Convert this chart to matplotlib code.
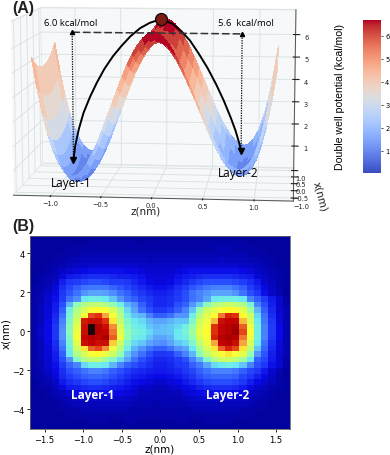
import numpy as np
import matplotlib
matplotlib.use('Agg')
import matplotlib.pyplot as plt
from matplotlib.colors import BoundaryNorm, Normalize, LinearSegmentedColormap
from matplotlib.cm import ScalarMappable

# panel A: well profile along z and the rise across x
z_nm = [-1.20, -1.15, -1.10, -1.05, -1.00, -0.95, -0.90, -0.85, -0.80, -0.75, -0.70, -0.65, -0.60,
        -0.55, -0.50, -0.45, -0.40, -0.35, -0.30, -0.25, -0.20, -0.15, -0.10, -0.05, 0.00,
        0.05, 0.10, 0.15, 0.20, 0.25, 0.30, 0.35, 0.40, 0.45, 0.50, 0.55, 0.60,
        0.65, 0.70, 0.75, 0.80, 0.85, 0.90, 0.95, 1.00, 1.05, 1.10, 1.15, 1.20]
well_kcal = [4.90, 3.70, 2.65, 1.80, 1.15, 0.65, 0.30, 0.08, 0.02, 0.10, 0.30, 0.60, 1.00,
             1.45, 2.00, 2.55, 3.10, 3.65, 4.20, 4.70, 5.10, 5.45, 5.72, 5.92, 6.00,
             5.94, 5.78, 5.52, 5.20, 4.82, 4.38, 3.92, 3.44, 2.95, 2.46, 1.98, 1.56,
             1.18, 0.86, 0.62, 0.46, 0.40, 0.48, 0.72, 1.10, 1.70, 2.50, 3.55, 4.85]
# colour seen on the surface: the outer walls stay paler than their height suggests
shade_kcal = [3.60, 3.30, 2.65, 1.80, 1.15, 0.65, 0.30, 0.08, 0.02, 0.10, 0.30, 0.60, 1.00,
              1.45, 2.00, 2.55, 3.10, 3.65, 4.20, 4.70, 5.10, 5.45, 5.72, 5.92, 6.00,
              5.94, 5.78, 5.52, 5.20, 4.82, 4.38, 3.92, 3.44, 2.95, 2.46, 1.98, 1.56,
              1.18, 0.86, 0.62, 0.46, 0.40, 0.48, 0.72, 1.10, 1.70, 2.50, 3.30, 3.80]
x_nm = [-1.0, -0.875, -0.75, -0.625, -0.5, -0.375, -0.25, -0.125, 0.0,
        0.125, 0.25, 0.375, 0.5, 0.625, 0.75, 0.875, 1.0]
rise_kcal = [0.70, 0.54, 0.39, 0.27, 0.17, 0.10, 0.04, 0.01, 0.00,
             0.01, 0.04, 0.10, 0.17, 0.27, 0.39, 0.54, 0.70]
band_levels = [-1.0, -0.5, 0.0, 0.6, 1.1, 1.6, 2.1, 2.6, 3.1, 3.6, 4.1, 4.6, 5.0, 5.4, 5.8, 6.2, 6.7]

# black transition paths drawn on top of the surface
path1_z = [-0.90, -0.88, -0.84, -0.79, -0.72, -0.65, -0.57, -0.48, -0.39, -0.30, -0.20, -0.10, -0.03]
path1_v = [0.85, 1.45, 2.20, 2.90, 3.60, 4.20, 4.80, 5.35, 5.80, 6.20, 6.55, 6.78, 6.88]
path2_z = [0.05, 0.13, 0.22, 0.31, 0.40, 0.49, 0.58, 0.66, 0.73, 0.78, 0.82, 0.84]
path2_v = [6.88, 6.75, 6.45, 6.05, 5.50, 4.90, 4.20, 3.50, 2.80, 2.25, 1.70, 1.35]
barrier_z = [-0.90, 0.84]
barrier_v = [0.85, 1.35]
barrier_top = 6.35

z_ticks = [-1.0, -0.5, 0.0, 0.5, 1.0]
x_ticks = [-1.0, -0.5, 0.0, 0.5, 1.0]
v_ticks = [1, 2, 3, 4, 5, 6]

# panel B: histogram counts (percent of the colour scale), 101 = black centre
density = [
    [2, 2, 2, 2, 2, 2, 2, 2, 2, 2, 2, 2, 2, 2, 2, 2, 2, 2, 2, 2, 2, 2, 2, 2, 2, 2, 2, 2, 2, 2, 2, 2, 2, 2, 2, 2],
    [2, 2, 2, 2, 2, 2, 2, 2, 3, 3, 3, 3, 3, 3, 3, 2, 3, 3, 3, 3, 3, 3, 3, 3, 3, 3, 3, 3, 3, 3, 2, 2, 2, 2, 2, 2],
    [2, 2, 2, 2, 2, 3, 3, 3, 3, 3, 3, 3, 3, 3, 3, 3, 3, 3, 3, 3, 3, 3, 3, 3, 3, 3, 4, 4, 3, 3, 3, 3, 2, 2, 2, 2],
    [2, 2, 2, 2, 3, 3, 3, 4, 4, 4, 4, 4, 4, 4, 4, 4, 4, 4, 4, 4, 4, 4, 4, 4, 4, 4, 4, 4, 4, 4, 3, 3, 3, 2, 2, 2],
    [2, 2, 2, 3, 3, 4, 4, 5, 5, 5, 5, 5, 5, 5, 5, 5, 4, 5, 5, 5, 5, 5, 5, 5, 5, 5, 6, 5, 5, 5, 4, 4, 3, 3, 2, 2],
    [2, 2, 3, 3, 4, 5, 6, 6, 7, 7, 7, 7, 7, 7, 7, 6, 6, 6, 6, 6, 6, 7, 7, 7, 7, 7, 7, 7, 7, 6, 6, 5, 4, 3, 2, 2],
    [2, 2, 3, 4, 6, 7, 8, 9, 10, 10, 10, 10, 10, 9, 9, 8, 7, 7, 7, 7, 8, 9, 10, 10, 10, 10, 10, 10, 10, 9, 8, 6, 5, 4, 3, 2],
    [2, 3, 4, 5, 8, 11, 12, 13, 14, 14, 14, 13, 12, 12, 11, 10, 8, 8, 8, 8, 10, 11, 12, 13, 14, 14, 14, 14, 13, 12, 11, 8, 6, 4, 3, 2],
    [2, 3, 4, 6, 12, 15, 16, 17, 18, 18, 17, 16, 16, 15, 13, 11, 9, 8, 8, 9, 11, 13, 15, 17, 18, 18, 18, 18, 17, 16, 14, 11, 7, 5, 3, 2],
    [3, 3, 5, 8, 14, 17, 20, 22, 23, 23, 23, 21, 19, 17, 15, 13, 11, 10, 10, 11, 14, 16, 19, 21, 23, 24, 24, 24, 22, 20, 16, 13, 9, 6, 3, 2],
    [3, 4, 6, 9, 15, 19, 22, 26, 28, 28, 27, 25, 22, 20, 17, 15, 13, 12, 12, 13, 15, 18, 22, 24, 26, 28, 28, 28, 26, 22, 18, 15, 10, 6, 4, 2],
    [3, 4, 7, 10, 16, 22, 25, 36, 38, 38, 36, 32, 26, 22, 20, 17, 15, 13, 13, 14, 16, 18, 22, 24, 28, 36, 38, 38, 38, 36, 24, 20, 16, 11, 7, 3],
    [3, 5, 7, 11, 18, 30, 45, 50, 52, 52, 50, 46, 38, 30, 26, 20, 16, 13, 13, 14, 18, 20, 26, 32, 44, 50, 52, 54, 52, 50, 40, 24, 18, 12, 7, 3],
    [3, 5, 8, 12, 20, 38, 50, 56, 62, 64, 62, 56, 48, 34, 28, 22, 18, 15, 15, 17, 20, 24, 32, 46, 54, 58, 62, 64, 64, 58, 48, 30, 20, 13, 7, 4],
    [3, 5, 8, 13, 22, 40, 52, 62, 80, 82, 72, 62, 50, 38, 32, 30, 24, 20, 20, 22, 26, 26, 38, 50, 58, 64, 76, 84, 82, 64, 54, 34, 22, 14, 8, 4],
    [3, 5, 9, 14, 24, 42, 55, 86, 88, 88, 82, 66, 52, 42, 36, 34, 30, 28, 28, 30, 32, 32, 42, 54, 60, 70, 88, 90, 90, 70, 56, 36, 23, 15, 8, 4],
    [3, 6, 9, 15, 25, 44, 58, 88, 101, 92, 88, 74, 56, 44, 38, 36, 32, 30, 31, 32, 34, 38, 46, 56, 62, 82, 90, 92, 94, 78, 60, 38, 24, 16, 9, 4],
    [3, 6, 9, 15, 26, 44, 60, 88, 101, 92, 90, 76, 58, 46, 40, 38, 34, 31, 31, 32, 36, 40, 48, 58, 64, 82, 90, 92, 96, 80, 62, 38, 24, 16, 9, 4],
    [3, 6, 9, 15, 26, 42, 62, 90, 92, 90, 94, 78, 60, 46, 38, 36, 32, 28, 28, 30, 36, 38, 46, 56, 62, 84, 92, 94, 92, 76, 60, 38, 24, 15, 9, 4],
    [3, 5, 9, 14, 24, 40, 58, 88, 90, 88, 88, 68, 54, 42, 34, 32, 28, 26, 25, 28, 32, 34, 42, 52, 60, 72, 90, 92, 88, 72, 56, 36, 22, 14, 8, 4],
    [3, 5, 8, 13, 22, 38, 54, 66, 78, 80, 74, 60, 50, 38, 30, 26, 22, 20, 20, 22, 26, 28, 36, 48, 56, 66, 78, 84, 80, 66, 52, 32, 21, 13, 8, 4],
    [3, 5, 8, 12, 20, 36, 50, 56, 62, 64, 60, 54, 46, 32, 26, 22, 18, 15, 15, 16, 20, 24, 30, 44, 52, 58, 62, 66, 62, 58, 46, 26, 19, 12, 7, 4],
    [3, 5, 7, 11, 18, 26, 42, 50, 52, 52, 48, 42, 34, 28, 22, 18, 15, 13, 13, 14, 16, 18, 24, 30, 42, 50, 54, 54, 52, 48, 36, 20, 17, 11, 7, 3],
    [3, 4, 7, 10, 16, 21, 24, 34, 38, 38, 36, 30, 24, 20, 18, 16, 14, 12, 12, 13, 15, 16, 20, 23, 28, 34, 36, 38, 36, 32, 24, 18, 15, 10, 7, 3],
    [3, 4, 6, 9, 14, 18, 20, 22, 24, 24, 23, 20, 18, 16, 14, 13, 12, 11, 11, 12, 13, 15, 17, 20, 22, 24, 24, 24, 23, 20, 17, 15, 11, 7, 4, 2],
    [3, 3, 5, 8, 13, 16, 18, 20, 21, 21, 20, 18, 16, 14, 12, 11, 10, 9, 9, 10, 11, 13, 15, 18, 20, 21, 21, 21, 20, 17, 15, 12, 9, 6, 3, 2],
    [2, 3, 4, 6, 11, 14, 15, 17, 18, 18, 17, 15, 14, 12, 10, 9, 8, 7, 7, 8, 9, 11, 13, 15, 17, 18, 18, 18, 17, 15, 12, 9, 7, 5, 3, 2],
    [2, 3, 3, 5, 8, 11, 12, 13, 14, 14, 13, 12, 11, 10, 8, 6, 6, 5, 5, 6, 7, 9, 10, 12, 13, 14, 14, 14, 13, 11, 9, 6, 5, 3, 3, 2],
    [2, 2, 3, 4, 5, 7, 9, 10, 10, 10, 10, 9, 9, 8, 7, 5, 5, 4, 4, 5, 5, 7, 8, 9, 10, 10, 10, 10, 9, 8, 6, 5, 4, 3, 2, 2],
    [2, 2, 2, 3, 4, 5, 6, 7, 7, 7, 7, 7, 7, 6, 5, 4, 4, 4, 4, 4, 4, 5, 6, 7, 7, 7, 7, 7, 7, 6, 5, 4, 3, 3, 2, 2],
    [2, 2, 2, 2, 3, 4, 5, 5, 5, 5, 5, 5, 5, 5, 4, 4, 4, 3, 4, 4, 4, 4, 5, 5, 5, 5, 5, 5, 5, 5, 4, 3, 3, 2, 2, 2],
    [2, 2, 2, 2, 3, 3, 3, 4, 4, 4, 4, 4, 4, 4, 3, 3, 3, 3, 3, 3, 3, 3, 4, 4, 4, 5, 4, 4, 4, 3, 3, 3, 2, 2, 2, 2],
    [2, 2, 2, 2, 2, 3, 3, 3, 3, 3, 3, 3, 3, 3, 3, 3, 3, 3, 3, 3, 3, 3, 3, 3, 3, 3, 3, 3, 3, 3, 3, 2, 2, 2, 2, 2],
    [2, 2, 2, 2, 2, 2, 2, 2, 3, 3, 3, 2, 2, 3, 3, 2, 2, 2, 2, 2, 3, 3, 2, 2, 3, 3, 3, 3, 2, 2, 2, 2, 2, 2, 2, 2],
    [2, 2, 2, 2, 2, 2, 2, 2, 2, 2, 2, 2, 2, 2, 2, 2, 2, 2, 2, 2, 2, 2, 2, 2, 2, 2, 2, 2, 2, 2, 2, 2, 2, 2, 2, 2],
]
zb_ticks = [-1.5, -1.0, -0.5, 0.0, 0.5, 1.0, 1.5]
xb_ticks = [-4, -2, 0, 2, 4]

density_colours = ['#00008c', '#0a0ae6', '#2a50ff', '#5aa0ff', '#6cecf0', '#90ffb4',
                   '#d0ff60', '#ffff30', '#f8a040', '#e03010', '#c00000', '#800000']

fig = plt.figure(figsize=(3.9, 4.56), dpi=100)
W, H = 390.0, 456.0

def px_rect(l, t, r, b):
    return [l / W, 1 - b / H, (r - l) / W, (b - t) / H]

# ---- panel A
ax = fig.add_axes(px_rect(-28, -48, 340, 256), projection='3d', computed_zorder=False)
ax.set_proj_type('persp', focal_length=0.85)
ax.view_init(elev=8.5, azim=-84.5)
ax.set_box_aspect((3.2, 1.9, 2.0), zoom=1.13)
ax.set_xlim(-1.37, 1.38)
ax.set_ylim(-1.2, 1.2)
ax.set_zlim(0, 7.1)
ax.patch.set_alpha(0)

Z, X = np.meshgrid(z_nm, x_nm)
V = np.add.outer(rise_kcal, well_kcal)
coolwarm = plt.get_cmap('coolwarm')
surf_norm = BoundaryNorm(band_levels, 256)
face_rgba = coolwarm(surf_norm(np.add.outer(rise_kcal, shade_kcal)))
ax.plot_surface(Z, X, V, facecolors=face_rgba, rstride=1, cstride=1,
                linewidth=0, antialiased=False, shade=False, zorder=1)

ax.plot(path1_z, [0] * len(path1_z), path1_v, color='k', lw=1.4, zorder=5)
ax.plot(path2_z, [0] * len(path2_z), path2_v, color='k', lw=1.4, zorder=5)
ax.plot(barrier_z, [0, 0], [barrier_top, barrier_top], color='#333333',
        lw=1.1, ls=(0, (5, 2)), zorder=5)
for bz, bv in zip(barrier_z, barrier_v):
    ax.plot([bz, bz], [0, 0], [bv, barrier_top], color='k', lw=0.9, ls=(0, (1, 1)), zorder=5)
    ax.plot([bz], [0], [barrier_top], marker='^', ms=3, color='k', zorder=6)
    ax.plot([bz], [0], [bv], marker='v', ms=4, color='k', zorder=6)
ax.scatter([0.01], [0], [6.95], s=75, color='#7a1c12', edgecolors='k', linewidths=0.8,
           depthshade=False, zorder=7)

ax.set_xticks(z_ticks)
ax.set_yticks(x_ticks)
ax.set_zticks(v_ticks)
ax.tick_params(axis='both', labelsize=4.8, pad=-3, length=2, colors='#222222')
ax.tick_params(axis='x', pad=-6)
ax.tick_params(axis='y', pad=-5)
for axis in (ax.xaxis, ax.yaxis, ax.zaxis):
    axis.set_pane_color((0.965, 0.972, 0.975, 1.0))
    axis.pane.set_edgecolor('#dfe5e5')
    axis._axinfo['grid'].update(color='#d8e0e0', linewidth=0.6)
    axis.line.set_color('#555555')
    axis.line.set_linewidth(0.7)

fig.text(146 / W, 1 - 212 / H, 'z(nm)', fontsize=7.5, ha='center', va='center', color='#222222')
fig.text(320 / W, 1 - 197 / H, 'x(nm)', fontsize=7.5, ha='center', va='center', rotation=-75,
         color='#222222')
fig.text(71 / W, 1 - 183 / H, 'Layer-1', fontsize=8.5, family='Open Sans', ha='center', va='center')
fig.text(238 / W, 1 - 174 / H, 'Layer-2', fontsize=8.5, family='Open Sans', ha='center', va='center')
fig.text(71 / W, 1 - 23 / H, '6.0 kcal/mol', fontsize=6.8, family='Open Sans', ha='center', va='center')
fig.text(246 / W, 1 - 23 / H, '5.6  kcal/mol', fontsize=6.8, family='Open Sans', ha='center', va='center')
fig.text(12 / W, 1 - 9 / H, '(A)', fontsize=11.5, family='Liberation Sans', weight='bold',
         ha='left', va='center', color='#222222')
fig.text(12 / W, 1 - 227 / H, '(B)', fontsize=11.5, family='Liberation Sans', weight='bold',
         ha='left', va='center', color='#222222')

# ---- colour bar
cax = fig.add_axes(px_rect(363, 21, 381, 174))
cb = fig.colorbar(ScalarMappable(Normalize(0.03, 6.68), coolwarm), cax=cax)
cb.set_ticks(v_ticks)
cb.ax.tick_params(labelsize=4.8, length=1.5, width=0.5, pad=1.5)
cb.outline.set_visible(False)
fig.text(340 / W, 1 - 97 / H, 'Double well potential (kcal/mol)', fontsize=7.6,
         family='Liberation Sans', rotation=90, ha='center', va='center')

# ---- panel B
axb = fig.add_axes(px_rect(30, 236.7, 290, 430))
cmap_b = LinearSegmentedColormap.from_list('density', density_colours)
cmap_b.set_over('#1e0505')
axb.imshow(np.array(density), cmap=cmap_b, vmin=0, vmax=100, aspect='auto',
           extent=(-1.69, 1.68, -5, 4.9), interpolation='nearest')
axb.set_xticks(zb_ticks)
axb.set_yticks(xb_ticks)
axb.tick_params(labelsize=6, length=2, width=0.6, pad=2)
axb.set_xlabel('z(nm)', fontsize=7.5, labelpad=0)
axb.set_ylabel('x(nm)', fontsize=7.5, labelpad=1)
for s in axb.spines.values():
    s.set_color('#666666')
    s.set_linewidth(0.6)
fig.text(93 / W, 1 - 396 / H, 'Layer-1', fontsize=8.5, family='Open Sans', weight='bold',
         color='white', ha='center', va='center')
fig.text(228 / W, 1 - 396 / H, 'Layer-2', fontsize=8.5, family='Open Sans', weight='bold',
         color='white', ha='center', va='center')

fig.savefig('out.png', dpi=100)
